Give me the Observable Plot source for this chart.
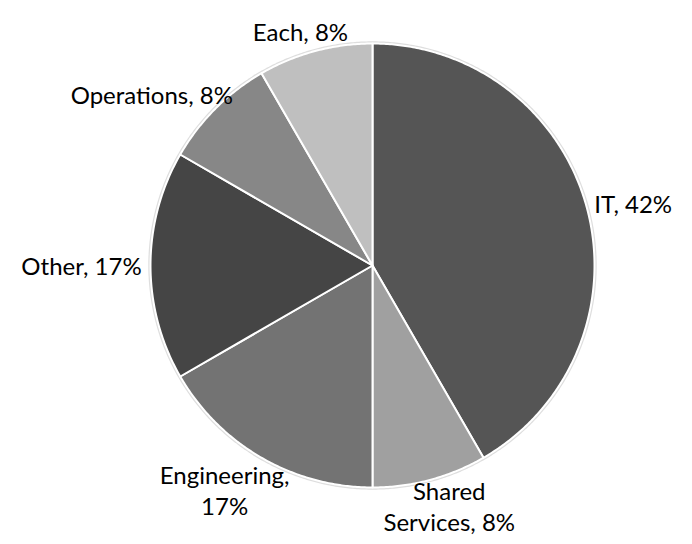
<!DOCTYPE html>
<html><head><meta charset="utf-8">
<script src="https://cdn.jsdelivr.net/npm/d3@7"></script>
<script src="https://cdn.jsdelivr.net/npm/@observablehq/plot@0.6"></script>
<style>body{margin:0;background:#fff} #chart{width:692px;height:544px}</style>
</head><body><div id="chart"></div>
<script>
// ---- data ----
const categories = ["IT", "Shared Services", "Engineering", "Other", "Operations", "Each"];
const values = [5, 1, 2, 2, 1, 1];
const colors = ["#555555", "#a0a0a0", "#737373", "#454545", "#878787", "#bfbfbf"];

// ---- layout ----
const W = 692, H = 544, CX = 372, CY = 265, R = 222;
const FONT_SIZE = 24, FONT_FAMILY = "Lato, 'Open Sans', sans-serif", LINE_HEIGHT = 1.3;
const LABEL_R = 1.04, WRAP_W = 140, EDGE_PAD = 4;

const total = d3.sum(values);
const arcs = d3.pie().sort(null).value(d => d)(values);

// slice polygons in unit-circle data space (angle 0 at top, clockwise)
const slicePts = [];
arcs.forEach((a, i) => {
  const cat = categories[i];
  slicePts.push({cat, x: 0, y: 0});
  const n = Math.max(2, Math.ceil((a.endAngle - a.startAngle) / (Math.PI / 360)));
  for (let k = 0; k <= n; k++) {
    const t = a.startAngle + (a.endAngle - a.startAngle) * k / n;
    slicePts.push({cat, x: Math.sin(t), y: Math.cos(t)});
  }
  slicePts.push({cat, x: 0, y: 0});
});

// faint outer shadow ring
const ringR = 1 + 2.2 / R;
const ring = d3.range(0, 721).map(k => {
  const t = k / 720 * 2 * Math.PI;
  return {x: ringR * Math.sin(t), y: ringR * Math.cos(t)};
});

// labels
const ctx = document.createElement("canvas").getContext("2d");
ctx.font = `${FONT_SIZE}px ${FONT_FAMILY}`;
const mw = s => ctx.measureText(s).width;
function wrap(text) {
  const words = text.split(" ");
  const lines = [];
  let cur = "";
  for (const w of words) {
    const t = cur ? cur + " " + w : w;
    if (cur && mw(t) > WRAP_W) { lines.push(cur); cur = w; } else cur = t;
  }
  lines.push(cur);
  return lines;
}
const yMin = -(H - CY) / R, yMax = CY / R;
const labels = arcs.map((a, i) => {
  const mid = (a.startAngle + a.endAngle) / 2;
  const sx = Math.sin(mid), sy = Math.cos(mid);
  const raw = `${categories[i]}, ${Math.round(values[i] / total * 100)}%`;
  const lines = Math.abs(sy) > 0.8 ? wrap(raw) : [raw];
  const w = d3.max(lines, mw);
  const h = FONT_SIZE * (1 + LINE_HEIGHT * (lines.length - 1));
  const halfBox = (h / 2 + 0.3 * FONT_SIZE + EDGE_PAD) / R;
  let y = LABEL_R * sy + sy * (h / 2) / R;
  y = Math.max(yMin + halfBox, Math.min(yMax - halfBox, y)); // keep inside the chart area
  return {
    text: lines.join("\n"),
    x: LABEL_R * sx + sx * (w / 2) / R,
    y
  };
});

const chart = Plot.plot({
  width: W, height: H, margin: 0,
  style: {background: "#fff", fontFamily: FONT_FAMILY, overflow: "visible"},
  x: {domain: [-CX / R, (W - CX) / R], range: [0, W], axis: null},
  y: {domain: [yMin, yMax], range: [H, 0], axis: null},
  color: {domain: categories, range: colors},
  marks: [
    Plot.line(ring, {x: "x", y: "y", fill: "#dedede", stroke: "none"}),
    Plot.line(slicePts, {x: "x", y: "y", z: "cat", fill: "cat", stroke: "white", strokeWidth: 2}),
    Plot.text(labels, {x: "x", y: "y", text: "text", fontSize: FONT_SIZE, fontFamily: FONT_FAMILY,
      lineHeight: LINE_HEIGHT, fill: "#000"})
  ]
});
document.getElementById("chart").appendChild(chart);
</script>
</body></html>
